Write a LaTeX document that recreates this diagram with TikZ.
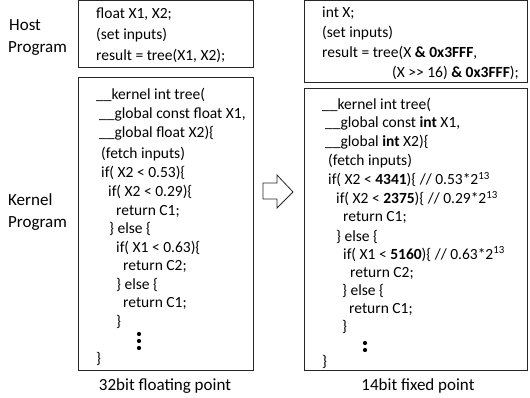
\documentclass[tikz,border=0pt]{standalone}
\usepackage{fontspec}
\setmainfont{Carlito}
\begin{document}
\begin{tikzpicture}[x=1pt,y=-1pt,
  box/.style={draw=black!85, line width=1pt},
  code/.style={anchor=base west, inner sep=0pt, font=\fontsize{15.5}{18}\selectfont},
  lab/.style={anchor=base west, inner sep=0pt, font=\fontsize{17}{20}\selectfont},
  captext/.style={anchor=base, inner sep=0pt, font=\fontsize{17}{20}\selectfont},
  dot/.style={fill=black}]
\useasboundingbox (0,0) rectangle (530,398);

% side labels
\node[lab] (hostA) at (9,31) {Host};
\node[lab] (hostB) at (8,53) {Program};
\node[lab] (kernA) at (8,206) {Kernel};
\node[lab] (kernB) at (8,228) {Program};

% ---------- 32-bit floating point version ----------
\draw[box] (78,1) rectangle (253,68);
\node[code] (lh1) at (96,19) {float X1, X2;};
\node[code] (lh2) at (96,40) {(set inputs)};
\node[code] (lh3) at (96,61) {result = tree(X1, X2);};

\draw[box] (78,78) rectangle (253,370);
\node[code] (lk1)  at (96,100)  {\_\_kernel int tree(};
\node[code] (lk2)  at (99,119)  {\_\_global const float X1,};
\node[code] (lk3)  at (99,138)  {\_\_global float X2)\{};
\node[code] (lk4)  at (101,159) {(fetch inputs)};
\node[code] (lk5)  at (101,178) {if( X2 < 0.53)\{};
\node[code] (lk6)  at (108,196.5) {if( X2 < 0.29)\{};
\node[code] (lk7)  at (116,215) {return C1;};
\node[code] (lk8)  at (109,233.5) {\} else \{};
\node[code] (lk9)  at (116,252) {if( X1 < 0.63)\{};
\node[code] (lk10) at (123,270.5) {return C2;};
\node[code] (lk11) at (116,289) {\} else \{};
\node[code] (lk12) at (123,307.5) {return C1;};
\node[code] (lk13) at (116,326) {\}};
\foreach \yy in {334,341,348} \fill[dot] (139,\yy) circle (2.1);
\node[code] (lk14) at (96,363) {\}};

\node[captext] (lcap) at (165,390) {32bit floating point};

% ---------- conversion arrow ----------
\draw[black!85, line width=0.8pt, fill=white]
  (263,183) -- (277,183) -- (277,175) -- (293,192) -- (277,208)
  -- (277,199) -- (263,199) -- cycle;

% ---------- 14-bit fixed point version ----------
\draw[box] (304,1) rectangle (527,83);
\node[code] (rh1) at (322,18) {int X;};
\node[code] (rh2) at (322,38) {(set inputs)};
\node[code] (rh3) at (322,58) {result = tree(X \textbf{\& 0x3FFF},};
\node[code] (rh4) at (392,78) {(X {>}{>} 16) \textbf{\& 0x3FFF});};

\draw[box] (304,89) rectangle (527,370);
\node[code] (rk1)  at (322,110) {\_\_kernel int tree(};
\node[code] (rk2)  at (325,128) {\_\_global const \textbf{int} X1,};
\node[code] (rk3)  at (325,147) {\_\_global \textbf{int} X2)\{};
\node[code] (rk4)  at (328,166) {(fetch inputs)};
\node[code] (rk5)  at (328,185) {if( X2 < \textbf{4341})\{ // 0.53*2\textsuperscript{13}};
\node[code] (rk6)  at (336,204) {if( X2 < \textbf{2375})\{ // 0.29*2\textsuperscript{13}};
\node[code] (rk7)  at (343,222) {return C1;};
\node[code] (rk8)  at (336,241) {\} else \{};
\node[code] (rk9)  at (343,259) {if( X1 < \textbf{5160})\{ // 0.63*2\textsuperscript{13}};
\node[code] (rk10) at (350,277) {return C2;};
\node[code] (rk11) at (342,295) {\} else \{};
\node[code] (rk12) at (349,313) {return C1;};
\node[code] (rk13) at (342,331) {\}};
\foreach \yy in {343,350} \fill[dot] (365,\yy) circle (2.1);
\node[code] (rk14) at (322,366) {\}};

\node[captext] (rcap) at (418,390) {14bit fixed point};
\end{tikzpicture}
\end{document}
